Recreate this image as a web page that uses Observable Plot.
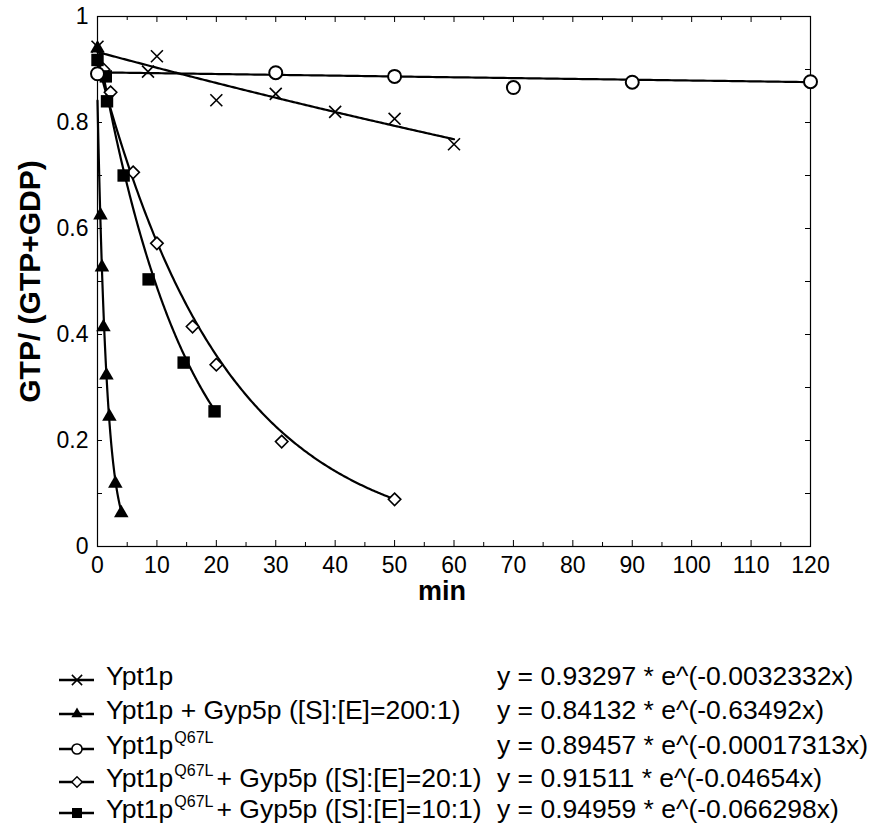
<!DOCTYPE html>
<html>
<head>
<meta charset="utf-8">
<script src="https://cdn.jsdelivr.net/npm/d3@7"></script>
<script src="https://cdn.jsdelivr.net/npm/@observablehq/plot@0.6"></script>
<style>
  html, body { margin: 0; padding: 0; background: #fff; overflow: hidden; }
  #wrap { position: relative; width: 874px; height: 823px; font-family: "Liberation Sans", Arial, sans-serif; color: #000; overflow: hidden; }
  .row { position: absolute; left: 0; height: 30px; line-height: 30px; white-space: pre; font-size: 26.5px; }
  .row svg { position: absolute; left: 56px; top: 5px; }
  .row .name { position: absolute; left: 106px; top: -4px; }
  .row .eq { position: absolute; left: 497px; top: -4px; }
  .sup { font-size: 16px; position: relative; top: -11px; margin-left: 1px; margin-right: 3px; }
</style>
</head>
<body>
<div id="wrap"></div>
<script>
// ---- Data ----
const seriesNames = [
  "Ypt1p",
  "Ypt1p + Gyp5p ([S]:[E]=200:1)",
  "Ypt1pQ67L",
  "Ypt1pQ67L+ Gyp5p ([S]:[E]=20:1)",
  "Ypt1pQ67L+ Gyp5p ([S]:[E]=10:1)"
];
// Ypt1p (x marks)
const ypt1pTime = [0, 8.5, 10, 20, 30, 40, 50, 60];
const ypt1pFrac = [0.943, 0.896, 0.925, 0.842, 0.854, 0.820, 0.807, 0.759];
// Ypt1p + Gyp5p 200:1 (filled triangles)
const gyp200Time = [0, 0.5, 0.75, 1, 1.5, 2, 3, 4];
const gyp200Frac = [0.94, 0.625, 0.527, 0.414, 0.323, 0.245, 0.119, 0.063];
// Ypt1p Q67L (open circles)
const q67lTime = [0, 30, 50, 70, 90, 120];
const q67lFrac = [0.892, 0.894, 0.887, 0.866, 0.876, 0.877];
// Ypt1p Q67L + Gyp5p 20:1 (open diamonds)
const q67l20Time = [1, 2.2, 6, 10, 16, 20, 31, 50];
const q67l20Frac = [0.900, 0.857, 0.706, 0.572, 0.415, 0.343, 0.198, 0.089];
// Ypt1p Q67L + Gyp5p 10:1 (filled squares)
const q67l10Time = [0, 1.4, 1.6, 4.4, 8.6, 14.5, 19.7];
const q67l10Frac = [0.918, 0.887, 0.840, 0.700, 0.504, 0.347, 0.255];

// Exponential fits shown in the legend: y = a * e^(-k x), drawn over [0, xmax]
const fitA = [0.93297, 0.84132, 0.89457, 0.91511, 0.94959];
const fitK = [0.0032332, 0.63492, 0.00017313, 0.04654, 0.066298];
const fitXmax = [60, 4, 120, 50, 20];
const fitLabels = [
  "y = 0.93297 * e^(-0.0032332x)",
  "y = 0.84132 * e^(-0.63492x)",
  "y = 0.89457 * e^(-0.00017313x)",
  "y = 0.91511 * e^(-0.04654x)",
  "y = 0.94959 * e^(-0.066298x)"
];

// axis ticks
const xMajor = [0, 10, 20, 30, 40, 50, 60, 70, 80, 90, 100, 110, 120];
const xMinor = [5, 15, 25, 35, 45, 55, 65, 75, 85, 95, 105, 115];
const yMajor = [0, 0.2, 0.4, 0.6, 0.8, 1];
const yMinor = [0.1, 0.3, 0.5, 0.7, 0.9];

// ---- build tables ----
const toRows = (t, f, s) => t.map((d, i) => ({time: d, frac: f[i], series: s}));
const pts = [
  toRows(ypt1pTime, ypt1pFrac, 0),
  toRows(gyp200Time, gyp200Frac, 1),
  toRows(q67lTime, q67lFrac, 2),
  toRows(q67l20Time, q67l20Frac, 3),
  toRows(q67l10Time, q67l10Frac, 4)
];
const fits = fitA.map((a, s) => {
  const n = 200, xm = fitXmax[s];
  return d3.range(n + 1).map(i => {
    const t = xm * i / n;
    return {time: t, frac: a * Math.exp(-fitK[s] * t), series: s};
  });
}).flat();

const W = 874, H = 612, mL = 97, mR = 64, mT = 16, mB = 66;
const pw = W - mL - mR, ph = H - mT - mB;

const chart = Plot.plot({
  width: W, height: H,
  marginLeft: mL, marginRight: mR, marginTop: mT, marginBottom: mB,
  x: {domain: [0, 120]},
  y: {domain: [0, 1]},
  style: {fontFamily: "'Liberation Sans', Arial, sans-serif", color: "#000", background: "#fff", overflow: "visible"},
  marks: [
    // inward ticks: bottom & top
    Plot.tickX(xMajor, {x: d => d, insetTop: ph - 6, stroke: "#000", strokeWidth: 1}),
    Plot.tickX(xMinor, {x: d => d, insetTop: ph - 4, stroke: "#000", strokeWidth: 1}),
    Plot.tickX(xMajor, {x: d => d, insetBottom: ph - 6, stroke: "#000", strokeWidth: 1}),
    Plot.tickX(xMinor, {x: d => d, insetBottom: ph - 4, stroke: "#000", strokeWidth: 1}),
    // inward ticks: left & right
    Plot.tickY(yMajor.concat(yMinor), {y: d => d, insetRight: pw - 5, stroke: "#000", strokeWidth: 1}),
    Plot.tickY(yMajor.concat(yMinor), {y: d => d, insetLeft: pw - 5, stroke: "#000", strokeWidth: 1}),
    Plot.frame({stroke: "#000", strokeWidth: 1.2}),
    Plot.axisX({ticks: xMajor, tickSize: 0, tickPadding: 10, fontSize: 23, label: null}),
    Plot.axisY({ticks: yMajor, tickSize: 0, tickPadding: 9, fontSize: 23, label: null,
      tickFormat: d => String(+d.toFixed(1))}),
    Plot.text(["min"], {frameAnchor: "bottom", lineAnchor: "middle", dx: -12, dy: 45, fontSize: 27, fontWeight: "bold", fill: "#000"}),
    Plot.text(["GTP/ (GTP+GDP)"], {frameAnchor: "left", textAnchor: "middle", lineAnchor: "middle", rotate: -90, dx: -67, dy: 0, fontSize: 30, fontWeight: "bold", fill: "#000"}),
    // fitted curves
    Plot.line(fits, {x: "time", y: "frac", z: "series", stroke: "#000", strokeWidth: 2.2}),
    // data points
    Plot.dot(pts[0], {x: "time", y: "frac", symbol: "times", r: 5.5, stroke: "#000", strokeWidth: 1.6}),
    Plot.dot(pts[1], {x: "time", y: "frac", symbol: "triangle", r: 5.4, fill: "#000", stroke: "none"}),
    Plot.dot(pts[3], {x: "time", y: "frac", symbol: "diamond2", r: 5.6, fill: "#fff", stroke: "#000", strokeWidth: 1.6}),
    Plot.dot(pts[4], {x: "time", y: "frac", symbol: "square", r: 7, fill: "#000", stroke: "none"}),
    Plot.dot(pts[2], {x: "time", y: "frac", symbol: "circle", r: 6.5, fill: "#fff", stroke: "#000", strokeWidth: 2})
  ]
});

const wrap = document.getElementById("wrap");
chart.style.position = "absolute";
chart.style.left = "0px";
chart.style.top = "0px";
wrap.appendChild(chart);

// ---- legend (below the plot) ----
const legendY = [680, 714, 749, 782, 813];
const symDefs = [
  {type: d3.symbolTimes, size: 70, fill: "none", stroke: "#000", sw: 1.5},
  {type: d3.symbolTriangle, size: 55, fill: "#000", stroke: "none", sw: 0},
  {type: d3.symbolCircle, size: 80, fill: "#fff", stroke: "#000", sw: 1.6},
  {type: d3.symbolDiamond2, size: 70, fill: "#fff", stroke: "#000", sw: 1.4},
  {type: d3.symbolSquare, size: 100, fill: "#000", stroke: "none", sw: 0}
];
function nameHTML(s) {
  return s.replace(/Ypt1pQ67L/, 'Ypt1p<span class="sup">Q67L</span>');
}
seriesNames.forEach((name, i) => {
  const row = document.createElement("div");
  row.className = "row";
  row.style.top = (legendY[i] - 15) + "px";
  row.style.width = "874px";
  const ns = "http://www.w3.org/2000/svg";
  const svg = document.createElementNS(ns, "svg");
  svg.setAttribute("width", 44);
  svg.setAttribute("height", 20);
  const ln = document.createElementNS(ns, "line");
  ln.setAttribute("x1", 3); ln.setAttribute("x2", 38);
  ln.setAttribute("y1", 10); ln.setAttribute("y2", 10);
  ln.setAttribute("stroke", "#000"); ln.setAttribute("stroke-width", 2.4);
  svg.appendChild(ln);
  const sd = symDefs[i];
  const p = document.createElementNS(ns, "path");
  p.setAttribute("d", d3.symbol(sd.type, sd.size)());
  p.setAttribute("transform", "translate(21,10)");
  p.setAttribute("fill", sd.fill);
  p.setAttribute("stroke", sd.stroke);
  p.setAttribute("stroke-width", sd.sw);
  svg.appendChild(p);
  row.appendChild(svg);
  const nm = document.createElement("span");
  nm.className = "name";
  nm.innerHTML = nameHTML(name);
  row.appendChild(nm);
  const eq = document.createElement("span");
  eq.className = "eq";
  eq.textContent = fitLabels[i];
  row.appendChild(eq);
  wrap.appendChild(row);
});
</script>
</body>
</html>
